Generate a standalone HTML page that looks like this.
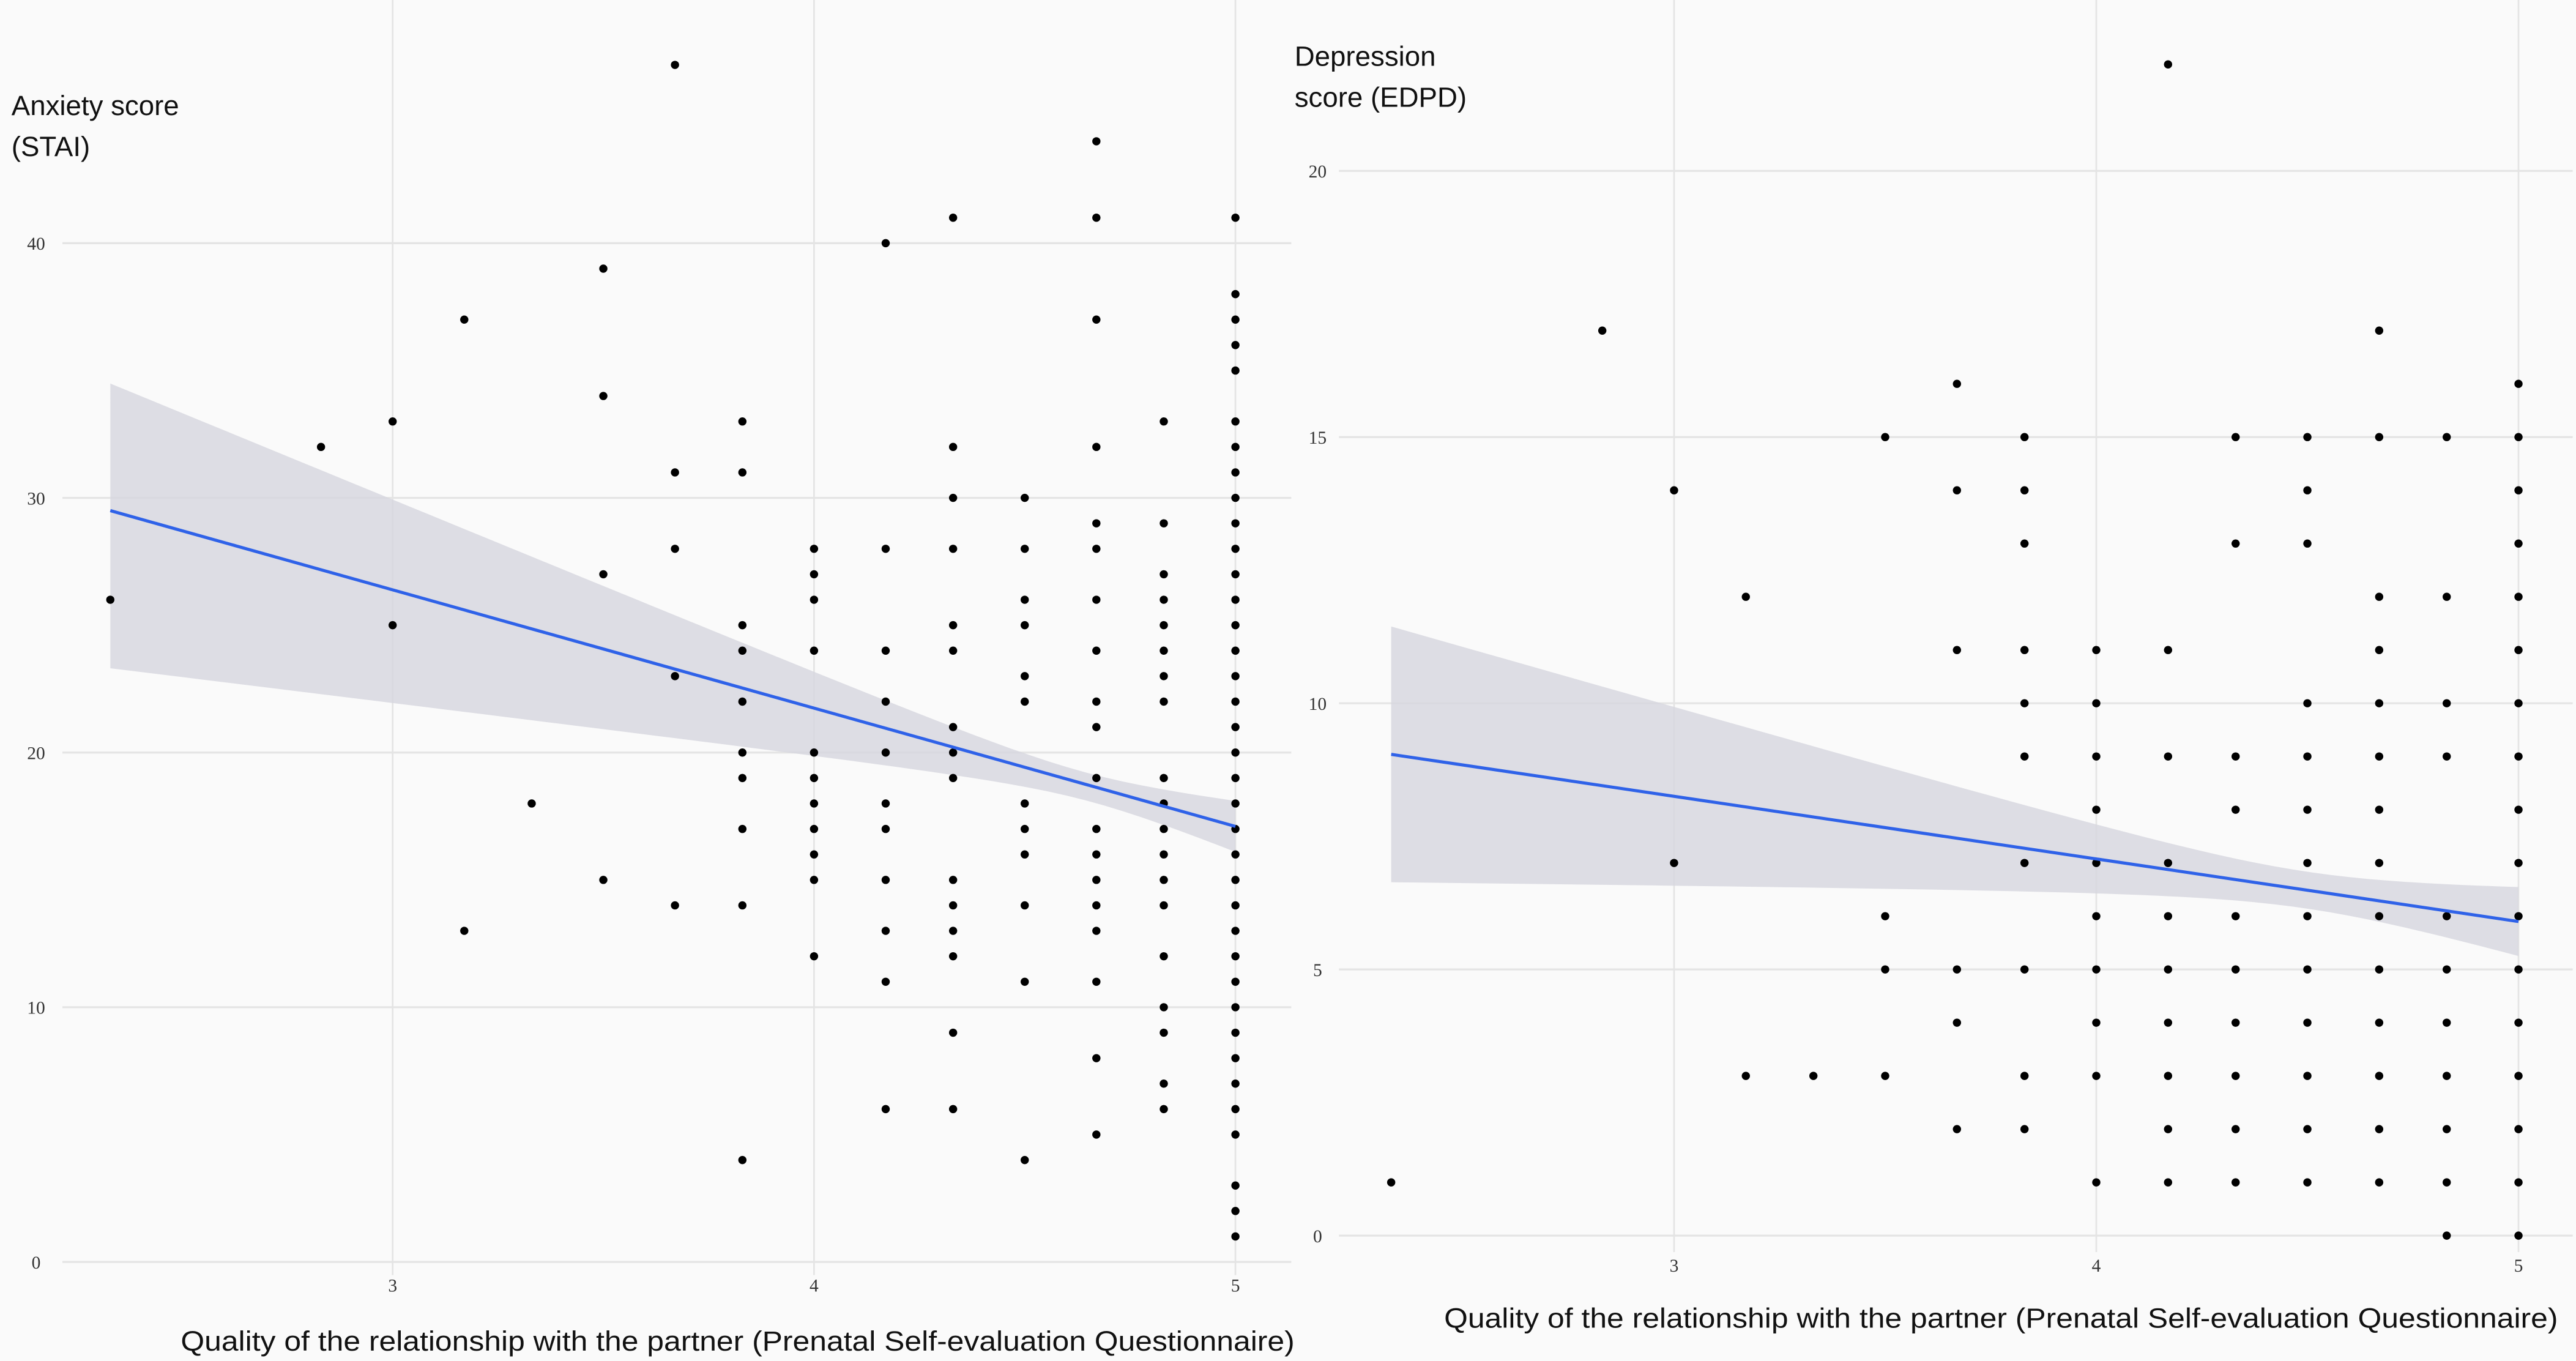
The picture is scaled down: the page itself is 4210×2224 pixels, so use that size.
<!DOCTYPE html>
<html><head><meta charset="utf-8"><style>
html,body{margin:0;padding:0;background:#fafafa;}
svg{display:block;}
.tick{font-family:"Liberation Serif",serif;font-size:11px;fill:#333;}
.ttl{font-family:"Liberation Sans",sans-serif;font-size:17px;fill:#111;}
</style></head><body>
<svg id="chart" width="4210" height="2224" viewBox="0 0 1568 828.3" preserveAspectRatio="none" xmlns="http://www.w3.org/2000/svg">
<rect x="0" y="0" width="1568" height="828.3" fill="#fafafa"/>
<g id="left"></g>
<g id="right"></g>
<text class="ttl" x="7" y="70">Anxiety score</text>
<text class="ttl" x="7" y="95">(STAI)</text>
<text class="ttl" x="110" y="822" textLength="678" lengthAdjust="spacingAndGlyphs">Quality of the relationship with the partner (Prenatal Self-evaluation Questionnaire)</text>
<text class="ttl" x="788" y="40">Depression</text>
<text class="ttl" x="788" y="65">score (EDPD)</text>
<text class="ttl" x="879" y="808" textLength="678" lengthAdjust="spacingAndGlyphs">Quality of the relationship with the partner (Prenatal Self-evaluation Questionnaire)</text>
</svg>
<script>
// ---- Anxiety data ----
const anxX = [2.33,2.83,3,3.17,3.33,3.5,3.67,3.83,4,4.17,4.33,4.5,4.67,4.83,5];
const anxY = [
 [26],[32],[33,25],[37,13],[18],[39,34,27,15],[47,31,28,23,14],
 [33,31,25,24,22,20,19,17,14,4],
 [28,27,26,24,20,19,18,17,16,15,12],
 [40,28,24,22,20,18,17,15,13,11,6],
 [41,32,30,28,25,24,21,20,19,15,14,13,12,9,6],
 [30,28,26,25,23,22,18,17,16,14,11,4],
 [44,41,37,32,29,28,26,24,22,21,19,17,16,15,14,13,11,8,5],
 [33,29,27,26,25,24,23,22,19,18,17,16,15,14,12,10,9,7,6],
 [41,38,37,36,35,33,32,31,30,29,28,27,26,25,24,23,22,21,20,19,18,17,16,15,14,13,12,11,10,9,8,7,6,5,3,2,1]
];
const anxYTicks = [0,10,20,30,40];
const anxFit = [29.5,17.1];
const anxSE = [0.3,5.75,4.65];
const anxShift = -0.6;
// ---- Depression data ----
const depX = [2.33,2.83,3,3.17,3.33,3.5,3.67,3.83,4,4.17,4.33,4.5,4.67,4.83,5];
const depY = [
 [1],[17],[14,7],[12,3],[3],[15,6,5,3],[16,14,11,5,4,2],
 [15,14,13,11,10,9,7,5,3,2],
 [11,10,9,8,7,6,5,4,3,1],
 [22,11,9,7,6,5,4,3,2,1],
 [15,13,9,8,6,5,4,3,2,1],
 [15,14,13,10,9,8,7,6,5,4,3,2,1],
 [17,15,12,11,10,9,8,7,6,5,4,3,2,1],
 [15,12,10,9,6,5,4,3,2,1,0],
 [16,15,14,13,12,11,10,9,8,7,6,5,4,3,2,1,0]
];
const depYTicks = [0,5,10,15,20];
const depFit = [9.04,5.9];
const depSE = [0.12,1.2,4.5];
const depShift = 0;
const xTicks = [3,4,5];

const NS="http://www.w3.org/2000/svg";
function mk(tag,attrs,parent){const e=document.createElementNS(NS,tag);for(const k in attrs)e.setAttribute(k,attrs[k]);parent.appendChild(e);return e;}

function panel(g,cfg){
  const sx=v=>cfg.x3+(v-3)*cfg.xu, sy=v=>cfg.y0-v*cfg.yu;
  cfg.yTicks.forEach(t=>{
    const l=mk('line',{x1:cfg.gx0,x2:cfg.gx1,y1:sy(t),y2:sy(t),stroke:'#e4e4e4','stroke-width':1.2},g);
    
    
    const tx=mk('text',{x:cfg.tickX,y:sy(t)+4,'text-anchor':'middle',class:'tick'},g);
    tx.textContent=t;
    
    
  });
  xTicks.forEach(t=>{
    const l=mk('line',{x1:sx(t),x2:sx(t),y1:cfg.vy0,y2:cfg.vy1,stroke:'#e4e4e4','stroke-width':1},g);
    
    
    const tx=mk('text',{x:sx(t),y:cfg.xTickY,'text-anchor':'middle',class:'tick'},g);
    tx.textContent=t;
    
    
  });
  const xa=cfg.xs[0], xb=cfg.xs[cfg.xs.length-1];
  const fit=v=>cfg.fit[0]+(cfg.fit[1]-cfg.fit[0])*(v-xa)/(xb-xa);
  const hw=v=>Math.sqrt(cfg.se[0]+cfg.se[1]*(v-cfg.se[2])**2);
  const sh=v=>cfg.shift*(xb-v)/(xb-xa);
  let up=[],lo=[];
  for(let i=0;i<=60;i++){const v=xa+(xb-xa)*i/60;up.push(sx(v)+','+sy(fit(v)+sh(v)+hw(v)));lo.unshift(sx(v)+','+sy(fit(v)+sh(v)-hw(v)));}
  const band=mk('polygon',{points:up.concat(lo).join(' '),fill:'#d6d6de','fill-opacity':0.8},g);
  
  
  cfg.xs.forEach((xv,i)=>cfg.ys[i].forEach(yv=>{
    const c=mk('circle',{cx:sx(xv),cy:sy(yv),r:2.5,fill:'#000'},g);
    
    
  }));
  const ln=mk('line',{x1:sx(xa),y1:sy(fit(xa)),x2:sx(xb),y2:sy(fit(xb)),stroke:'#2f62e8','stroke-width':1.9},g);
  
  
}
panel(document.getElementById('left'),{x3:239,xu:256.5,y0:768,yu:15.5,gx0:38,gx1:786,vy0:0,vy1:776,tickX:22,xTickY:786,
  xs:anxX,ys:anxY,yTicks:anxYTicks,fit:anxFit,se:anxSE,shift:anxShift});
panel(document.getElementById('right'),{x3:1019,xu:257,y0:752,yu:32.4,gx0:815,gx1:1566,vy0:0,vy1:762,tickX:802,xTickY:774,
  xs:depX,ys:depY,yTicks:depYTicks,fit:depFit,se:depSE,shift:depShift});
</script>
</body></html>
